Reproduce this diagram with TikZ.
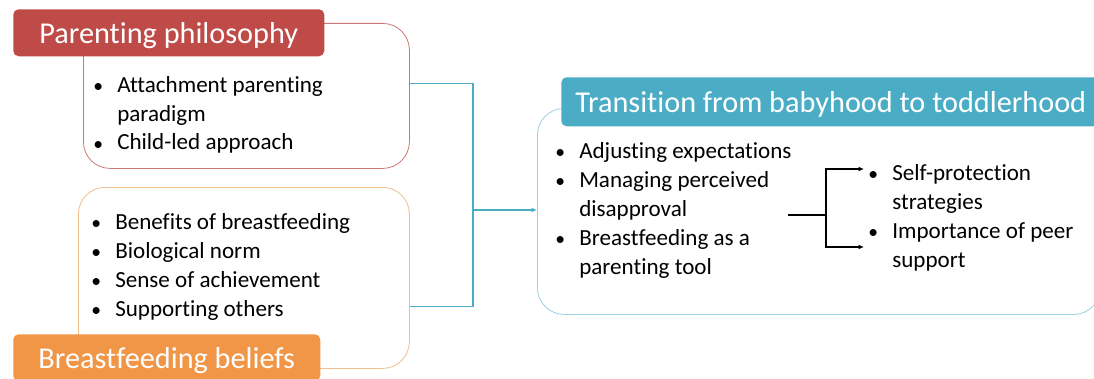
\documentclass[tikz,border=0pt]{standalone}
\usepackage{fontspec}
\setmainfont{Carlito}[Ligatures=NoCommon]
\usetikzlibrary{arrows.meta}
\definecolor{philored}{RGB}{190, 75, 72}
\definecolor{philoline}{RGB}{205, 120, 118}
\definecolor{beliefsorange}{RGB}{240, 150, 70}
\definecolor{beliefsline}{RGB}{240, 190, 140}
\definecolor{transteal}{RGB}{75, 172, 198}
\definecolor{transline}{RGB}{150, 210, 225}
\newcommand{\bul}{\makebox[18pt][l]{\scalebox{0.85}{•}}}
\newcommand{\gap}{\hspace*{18pt}}

\begin{document}
\begin{tikzpicture}[x=0.75pt, y=-0.75pt,
    themebox/.style={draw, rounded corners=20pt, line width=0.6pt, anchor=north west, inner sep=0pt},
    themetitle/.style={anchor=north west, rounded corners=4pt, inner sep=0pt, text=white,
      font=\fontsize{22.7}{27}\selectfont, text height=18pt, text depth=1.5pt},
    bullets/.style={anchor=base west, inner sep=0pt, font=\fontsize{17.3}{21.75}\selectfont},
    link/.style={draw=transteal, line width=1.1pt},
    fork/.style={draw=black, line width=0.8pt}]
    \useasboundingbox (0,0) rectangle (1094,378);

    % Theme boxes
    \node[themebox, draw=philoline, minimum width=244.5pt, minimum height=108.75pt] (philobox) at (83,23) {};
    \node[themebox, draw=beliefsline, minimum width=248.25pt, minimum height=135.75pt] (beliefsbox) at (78,187) {};
    \node[themebox, draw=transline, minimum width=422.25pt, minimum height=154.5pt] (transbox) at (537,108) {};

    % Titles
    \node[themetitle, fill=philored, minimum width=233.25pt, minimum height=35.25pt] (philotitle) at (13,9) {Parenting philosophy};
    \node[themetitle, fill=beliefsorange, minimum width=230.25pt, minimum height=35.25pt] (beliefstitle) at (13,334) {Breastfeeding beliefs};
    \node[themetitle, fill=transteal, minimum width=404.25pt, minimum height=36.75pt] (transtitle) at (561,77) {Transition from babyhood to toddlerhood};

    % Bullet lists
    \node[bullets] (philolist) at (93,92) {\begin{tabular}[t]{@{}l@{}}
        \bul Attachment parenting\\ \gap paradigm\\ \bul Child-led approach\end{tabular}};
    \node[bullets] (beliefslist) at (91,229) {\begin{tabular}[t]{@{}l@{}}
        \bul Benefits of breastfeeding\\ \bul Biological norm\\ \bul Sense of achievement\\ \bul Supporting others\end{tabular}};
    \node[bullets] (translist) at (555,158) {\begin{tabular}[t]{@{}l@{}}
        \bul Adjusting expectations\\ \bul Managing perceived\\ \gap disapproval\\ \bul Breastfeeding as a\\ \gap parenting tool\end{tabular}};
    \node[bullets] (copinglist) at (868,180) {\begin{tabular}[t]{@{}l@{}}
        \bul Self-protection\\ \gap strategies\\ \bul Importance of peer\\ \gap support\end{tabular}};

    % Cyan connector
    \coordinate (join) at (473,210);
    \draw[link] ([yshift=9.4pt]philobox.east) -| (join);
    \draw[link] ([yshift=-21.4pt]beliefsbox.east) -| (join);
    \draw[link, -{Latex[length=4pt, width=3.5pt]}] (join) -- (join -| transbox.west);

    % Fork to coping list
    \coordinate (forkin) at (788,215);
    \coordinate (forkup) at (864,169);
    \coordinate (forkdown) at (864,247);
    \draw[fork] (forkin) -- ++(38,0) coordinate (forkmid);
    \draw[fork, -{Latex[length=4pt, width=3.5pt]}] (forkmid) |- (forkup);
    \draw[fork, -{Latex[length=4pt, width=3.5pt]}] (forkmid) |- (forkdown);
\end{tikzpicture}
\end{document}
